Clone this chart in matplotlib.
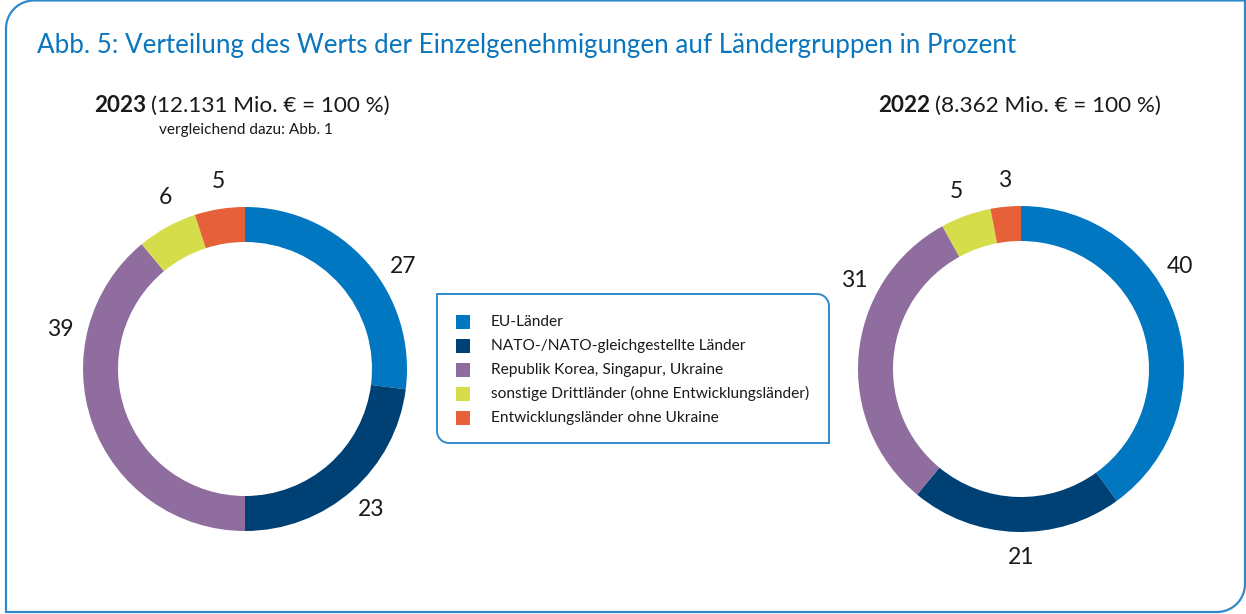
import numpy as np
import matplotlib.pyplot as plt
from matplotlib.path import Path
from matplotlib.patches import PathPatch, Rectangle

plt.rcParams['font.family'] = ['Lato', 'DejaVu Sans']

# data
categories = ["EU-Länder",
              "NATO-/NATO-gleichgestellte Länder",
              "Republik Korea, Singapur, Ukraine",
              "sonstige Drittländer (ohne Entwicklungsländer)",
              "Entwicklungsländer ohne Ukraine"]
values_2023 = [27, 23, 39, 6, 5]
values_2022 = [40, 21, 31, 5, 3]
colors = ["#0077c0", "#004175", "#8f6d9f", "#d5dd4b", "#e6603a"]

title = "Abb. 5: Verteilung des Werts der Einzelgenehmigungen auf Ländergruppen in Prozent"

W, H = 1246, 614
blue = "#0a76be"
frame_blue = "#2f89cb"
dark = "#1a1a1a"


def Y(py):
    # pixel row -> data y
    return H - py


def rounded_box(x0, y0, x1, y1, r, corners):
    pts = []
    spec = [("tl", (x0, y1), (x0 + r, y1 - r), 180, 90),
            ("tr", (x1, y1), (x1 - r, y1 - r), 90, 0),
            ("br", (x1, y0), (x1 - r, y0 + r), 0, -90),
            ("bl", (x0, y0), (x0 + r, y0 + r), -90, -180)]
    for name, corner, c, a0, a1 in spec:
        if name in corners:
            t = np.radians(np.linspace(a0, a1, 20))
            pts += list(zip(c[0] + r * np.cos(t), c[1] + r * np.sin(t)))
        else:
            pts.append(corner)
    pts.append(pts[0])
    codes = [Path.MOVETO] + [Path.LINETO] * (len(pts) - 2) + [Path.CLOSEPOLY]
    return Path(pts, codes)


fig = plt.figure(figsize=(W / 100, H / 100), dpi=100)
ax = fig.add_axes([0, 0, 1, 1])

# outer frame
ax.add_patch(PathPatch(rounded_box(6, Y(612), 1245, Y(0.5), 28, {"tl", "br"}),
                       facecolor="none", edgecolor=frame_blue, lw=1.6))

ax.text(37, Y(46), title, color=blue, fontsize=18.7, ha="left", va="center")


def donut(values, cx, cy, r, label_angles):
    ax.pie(values, colors=colors, center=(cx, Y(cy)), radius=r,
           startangle=90, counterclock=False,
           wedgeprops=dict(width=35, linewidth=0))
    for v, a in zip(values, label_angles):
        t = np.radians(a)
        ax.text(cx + 189 * np.sin(t), Y(cy - 189 * np.cos(t)), str(v),
                fontsize=16.5, color=dark, ha="center", va="center")


donut(values_2023, 245, 369, 162, [57, 138, 282, 335, 352])
donut(values_2022, 1021, 369, 163, [57, 180, 298, 340, 355])

# headers
ax.text(146, Y(106), "2023", fontweight="bold", fontsize=16.2, color=dark,
        ha="right", va="center")
ax.text(151, Y(106), "(12.131 Mio. € = 100 %)", fontsize=16.2, color=dark,
        ha="left", va="center")
ax.text(246, Y(130), "vergleichend dazu: Abb. 1", fontsize=11.1, color=dark,
        ha="center", va="center")
ax.text(930, Y(106), "2022", fontweight="bold", fontsize=16.2, color=dark,
        ha="right", va="center")
ax.text(935, Y(106), "(8.362 Mio. € = 100 %)", fontsize=16.2, color=dark,
        ha="left", va="center")

# legend
ax.add_patch(PathPatch(rounded_box(437, Y(443), 829, Y(294), 12, {"tr", "bl"}),
                       facecolor="white", edgecolor=frame_blue, lw=1.4))
for i, (cat, col) in enumerate(zip(categories, colors)):
    yc = 321.5 + i * 24.1
    ax.add_patch(Rectangle((456, Y(yc) - 7), 14, 14, facecolor=col, edgecolor="none"))
    ax.text(491, Y(yc), cat, fontsize=11.2, color=dark, ha="left", va="center")

ax.set_xlim(0, W)
ax.set_ylim(0, H)
ax.set_aspect("auto")
ax.axis("off")

fig.savefig("out.png", dpi=100)
